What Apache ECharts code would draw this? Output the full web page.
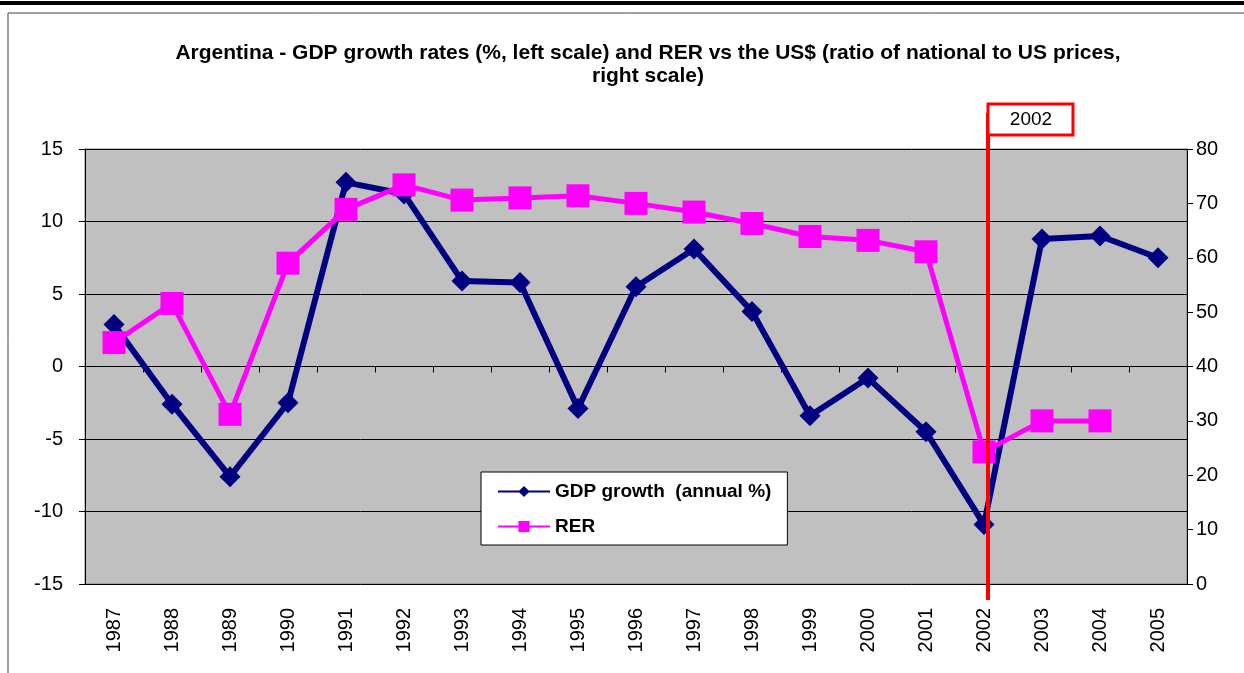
<!DOCTYPE html>
<html><head><meta charset="utf-8">
<script src="https://cdn.jsdelivr.net/npm/echarts@6/dist/echarts.min.js"></script>
<style>html,body{margin:0;padding:0;background:#fff;}#c{width:1244px;height:673px;}</style>
</head><body><div id="c"></div>
<script>
const years = ['1987','1988','1989','1990','1991','1992','1993','1994','1995','1996','1997','1998','1999','2000','2001','2002','2003','2004','2005'];
const gdpGrowth = [2.9,-2.6,-7.6,-2.5,12.7,11.9,5.9,5.8,-2.9,5.5,8.1,3.8,-3.4,-0.8,-4.5,-10.9,8.8,9.0,7.5];
const rer = [44.4,51.6,31.2,59.0,68.9,73.4,70.6,71.0,71.4,70.0,68.4,66.3,63.9,63.2,61.1,24.3,30.0,30.0,null];
const leftAxis = {min: -15, max: 15, interval: 5};
const rightAxis = {min: 0, max: 80, interval: 10};
const highlightYear = '2002';
const titleText = 'Argentina - GDP growth rates (%, left scale) and RER vs the US$ (ratio of national to US prices,\nright scale)';
const seriesNames = ['GDP growth  (annual %)', 'RER'];

const FONT = '"Liberation Sans", Arial, sans-serif';
const chart = echarts.init(document.getElementById('c'), null, {renderer: 'canvas'});
chart.setOption({
  animation: false,
  backgroundColor: '#fff',
  title: {
    text: titleText, left: 648, top: 42, textAlign: 'center', padding: 0,
    textStyle: {fontFamily: FONT, fontSize: 21, fontWeight: 'bold', color: '#000', lineHeight: 23, align: 'center'}
  },
  legend: {
    orient: 'vertical', left: 481, top: 472, padding: [10, 16, 9, 16],
    backgroundColor: '#fff', borderColor: '#000', borderWidth: 1,
    itemWidth: 52, itemHeight: 14, itemGap: 16,
    textStyle: {fontFamily: FONT, fontSize: 19, fontWeight: 'bold', color: '#000'},
    data: seriesNames
  },
  grid: {left: 85, right: 57, top: 149, bottom: 89, show: true, backgroundColor: '#C0C0C0', borderColor: '#808080', borderWidth: 1, containLabel: false, outerBoundsMode: 'none'},
  xAxis: {
    type: 'category', data: years, boundaryGap: true,
    axisLine: {show: true, lineStyle: {color: '#000', width: 1}},
    axisTick: {show: true, length: 6, interval: 0, lineStyle: {color: '#000'}},
    axisLabel: {rotate: 90, interval: 0, margin: 24, fontFamily: FONT, fontSize: 20, color: '#000'}
  },
  yAxis: [
    {type: 'value', position: 'left', min: leftAxis.min, max: leftAxis.max, interval: leftAxis.interval,
     axisLine: {show: true, lineStyle: {color: '#000', width: 1}},
     axisTick: {show: true, length: 6, lineStyle: {color: '#000'}},
     splitLine: {show: true, lineStyle: {color: '#000', width: 1}},
     axisLabel: {margin: 22, fontFamily: FONT, fontSize: 20, color: '#000'}},
    {type: 'value', position: 'right', min: rightAxis.min, max: rightAxis.max, interval: rightAxis.interval,
     axisLine: {show: true, lineStyle: {color: '#000', width: 1}},
     axisTick: {show: true, length: 6, lineStyle: {color: '#000'}},
     splitLine: {show: false},
     axisLabel: {margin: 9, fontFamily: FONT, fontSize: 20, color: '#000'}}
  ],
  series: [
    {name: seriesNames[0], type: 'line', yAxisIndex: 0, data: gdpGrowth, color: '#000080',
     lineStyle: {width: 6, color: '#000080'}, itemStyle: {color: '#000080'},
     symbol: 'diamond', symbolSize: 21, showAllSymbol: true, z: 2},
    {name: seriesNames[1], type: 'line', yAxisIndex: 1, data: rer, color: '#FF00FF',
     lineStyle: {width: 5, color: '#FF00FF'}, itemStyle: {color: '#FF00FF'},
     symbol: 'rect', symbolSize: 23, showAllSymbol: true, connectNulls: false, z: 3}
  ]
});

const xPix = chart.convertToPixel({xAxisIndex: 0}, highlightYear) + 4;
const yBottom = chart.convertToPixel({yAxisIndex: 0}, leftAxis.min);
chart.setOption({
  graphic: [
    {type: 'rect', shape: {x: 0, y: 1, width: 1244, height: 4}, style: {fill: '#000'}, silent: true},
    {type: 'rect', shape: {x: 8, y: 13, width: 1250, height: 700}, style: {fill: null, stroke: '#444', lineWidth: 1}, silent: true},
    {type: 'line', shape: {x1: xPix, y1: 113, x2: xPix, y2: yBottom + 16}, style: {stroke: '#FF0000', lineWidth: 4}, z: 100, silent: true},
    {type: 'rect', shape: {x: xPix, y: 104, width: 85, height: 31}, style: {fill: '#fff', stroke: '#FF0000', lineWidth: 3}, z: 101, silent: true},
    {type: 'text', x: xPix + 43, y: 120, style: {text: highlightYear, fill: '#000', font: '19px ' + FONT, align: 'center', verticalAlign: 'middle'}, z: 102, silent: true}
  ]
});
</script></body></html>
